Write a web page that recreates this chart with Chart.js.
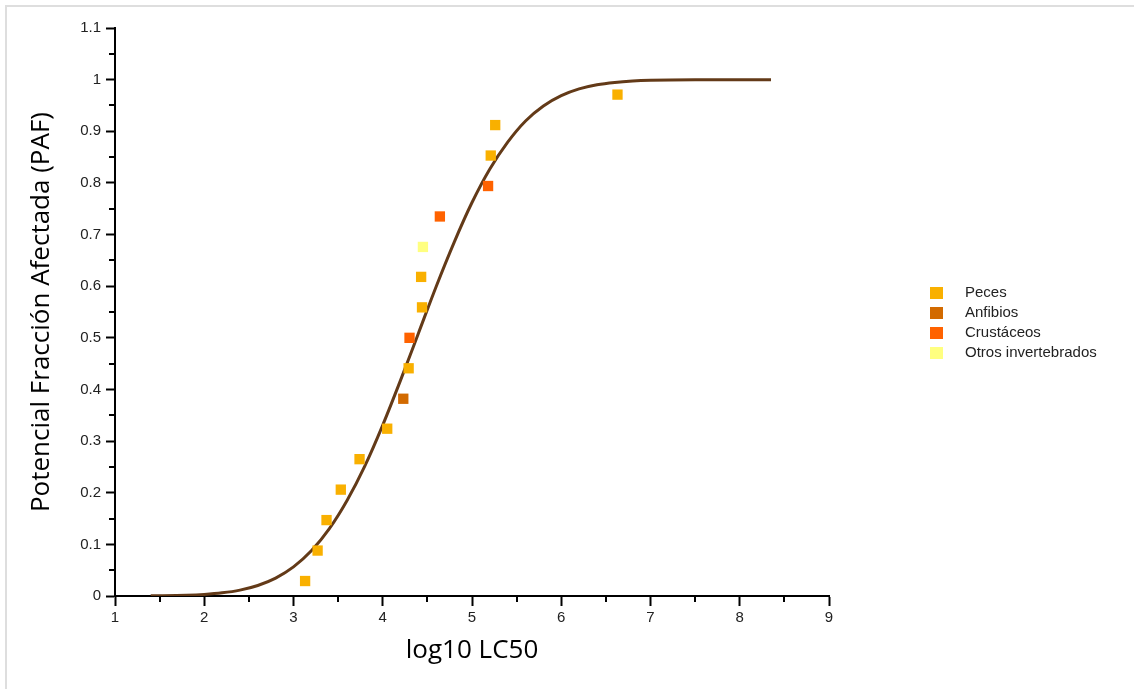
<!DOCTYPE html>
<html lang="es">

<head>
  <meta charset="UTF-8">
  <title>Potencial Fracción Afectada</title>
  <script src="https://cdn.jsdelivr.net/npm/chart.js"></script>
  <style>
    html,
    body {
      margin: 0;
      padding: 0;
      background: #fff;
      overflow: hidden;
    }

    .frame {
      position: absolute;
      left: 5px;
      top: 5px;
      width: 1200px;
      height: 800px;
      border: 2px solid #dedede;
    }

    #pafChart {
      position: absolute;
      left: 0;
      top: 0;
    }
  </style>
</head>

<body>
  <div class="frame"></div>
  <canvas id="pafChart" width="1134" height="689"></canvas>

  <script>
    // species points: x = log10 LC50, y = rank fraction
    const pecesX = [3.13, 3.27, 3.37, 3.53, 3.74, 4.05, 4.29, 4.44, 4.43, 5.21, 5.26, 6.63];
    const pecesY = [0.029, 0.088, 0.147, 0.206, 0.265, 0.324, 0.441, 0.559, 0.618, 0.853, 0.912, 0.971];

    const anfibiosX = [4.23];
    const anfibiosY = [0.382];

    const crustaceosX = [4.30, 4.64, 5.18];
    const crustaceosY = [0.500, 0.735, 0.794];

    const otrosX = [4.45];
    const otrosY = [0.676];

    // fitted curve
    const curveX = [1.4, 1.8, 2.0, 2.2, 2.4, 2.6, 2.8, 3.0, 3.2, 3.4, 3.6, 3.8, 4.0, 4.2, 4.4, 4.6, 4.8,
      5.0, 5.2, 5.4, 5.6, 5.8, 6.0, 6.2, 6.4, 6.6, 6.8, 7.0, 7.5, 8.35];
    const curveY = [0.0003, 0.0015, 0.0031, 0.0061, 0.0114, 0.0204, 0.0347, 0.0564, 0.0875, 0.130, 0.185,
      0.252, 0.331, 0.418, 0.509, 0.600, 0.685, 0.762, 0.827, 0.879, 0.920, 0.949, 0.969, 0.982, 0.990,
      0.9946, 0.9973, 0.9987, 0.9998, 1.0];

    // minor tick values
    const xMinorTicks = [1.5, 2.5, 3.5, 4.5, 5.5, 6.5, 7.5, 8.5];
    const yMinorTicks = [0.05, 0.15, 0.25, 0.35, 0.45, 0.55, 0.65, 0.75, 0.85, 0.95, 1.05];

    const toPoints = (xs, ys) => xs.map((x, i) => ({ x: x, y: ys[i] }));

    // draws the short minor ticks and the legend on the right
    const extras = {
      id: 'extras',
      afterDraw(chart) {
        const ctx = chart.ctx;
        const area = chart.chartArea;
        const xs = chart.scales.x;
        const ys = chart.scales.y;

        ctx.save();
        ctx.strokeStyle = '#000';
        ctx.lineWidth = 2;
        ctx.beginPath();
        xMinorTicks.forEach(v => {
          const px = Math.round(xs.getPixelForValue(v));
          ctx.moveTo(px, area.bottom);
          ctx.lineTo(px, area.bottom + 6);
        });
        yMinorTicks.forEach(v => {
          const py = Math.round(ys.getPixelForValue(v));
          ctx.moveTo(area.left, py);
          ctx.lineTo(area.left - 6, py);
        });
        ctx.stroke();

        // legend
        ctx.font = '15px "Liberation Sans", Arial, sans-serif';
        ctx.textBaseline = 'middle';
        ctx.textAlign = 'left';
        let y = 293;
        chart.data.datasets.forEach(ds => {
          if (!ds.inLegend) return;
          ctx.fillStyle = ds.backgroundColor;
          ctx.fillRect(area.right + 101, y - 6, 13, 12);
          ctx.fillStyle = '#222';
          ctx.fillText(ds.label, area.right + 136, y);
          y += 20;
        });
        ctx.restore();
      }
    };

    var ctx = document.getElementById('pafChart').getContext('2d');
    var pafChart = new Chart(ctx, {
      type: 'scatter',
      data: {
        datasets: [{
          label: 'Peces',
          inLegend: true,
          data: toPoints(pecesX, pecesY),
          backgroundColor: '#F9B000',
          pointStyle: 'rect',
          pointRadius: 7.3,
          borderWidth: 0,
          order: 0
        }, {
          label: 'Anfibios',
          inLegend: true,
          data: toPoints(anfibiosX, anfibiosY),
          backgroundColor: '#D26A00',
          pointStyle: 'rect',
          pointRadius: 7.3,
          borderWidth: 0,
          order: 0
        }, {
          label: 'Crustáceos',
          inLegend: true,
          data: toPoints(crustaceosX, crustaceosY),
          backgroundColor: '#FF6200',
          pointStyle: 'rect',
          pointRadius: 7.3,
          borderWidth: 0,
          order: 0
        }, {
          label: 'Otros invertebrados',
          inLegend: true,
          data: toPoints(otrosX, otrosY),
          backgroundColor: '#FFFF80',
          pointStyle: 'rect',
          pointRadius: 7.3,
          borderWidth: 0,
          order: 0
        }, {
          label: 'Curva',
          data: toPoints(curveX, curveY),
          showLine: true,
          pointRadius: 0,
          borderColor: '#633A18',
          backgroundColor: '#633A18',
          borderWidth: 3,
          cubicInterpolationMode: 'monotone',
          order: 1
        }]
      },
      options: {
        responsive: false,
        maintainAspectRatio: false,
        animation: false,
        layout: {
          padding: { top: 28, right: 305, bottom: 0, left: 0 }
        },
        scales: {
          x: {
            type: 'linear',
            min: 1,
            max: 9,
            afterFit: function (scale) { scale.height = 93; },
            ticks: {
              stepSize: 1,
              padding: 3,
              color: '#222',
              font: { family: '"Liberation Sans", Arial, sans-serif', size: 15 }
            },
            grid: {
              drawOnChartArea: false,
              drawTicks: true,
              tickLength: 10,
              tickWidth: 2,
              tickColor: '#000'
            },
            border: { display: true, color: '#000', width: 2 },
            title: {
              display: true,
              text: 'log10 LC50',
              color: '#000',
              font: { family: '"Open Sans", sans-serif', size: 26 },
              padding: { top: 0, bottom: 23 }
            }
          },
          y: {
            min: 0,
            max: 1.1,
            afterFit: function (scale) { scale.width = 115; },
            ticks: {
              stepSize: 0.1,
              padding: 5,
              color: '#222',
              font: { family: '"Liberation Sans", Arial, sans-serif', size: 15 },
              callback: function (value) {
                return String(Math.round(value * 10) / 10);
              }
            },
            grid: {
              drawOnChartArea: false,
              drawTicks: true,
              tickLength: 9,
              tickWidth: 2,
              tickColor: '#000'
            },
            border: { display: true, color: '#000', width: 2 },
            title: {
              display: true,
              text: 'Potencial Fracción Afectada (PAF)',
              color: '#000',
              font: { family: '"Open Sans", sans-serif', size: 26 },
              padding: { top: 26, bottom: 0 }
            }
          }
        },
        plugins: {
          legend: { display: false },
          tooltip: { enabled: false }
        }
      },
      plugins: [extras]
    });
  </script>

</body>

</html>
